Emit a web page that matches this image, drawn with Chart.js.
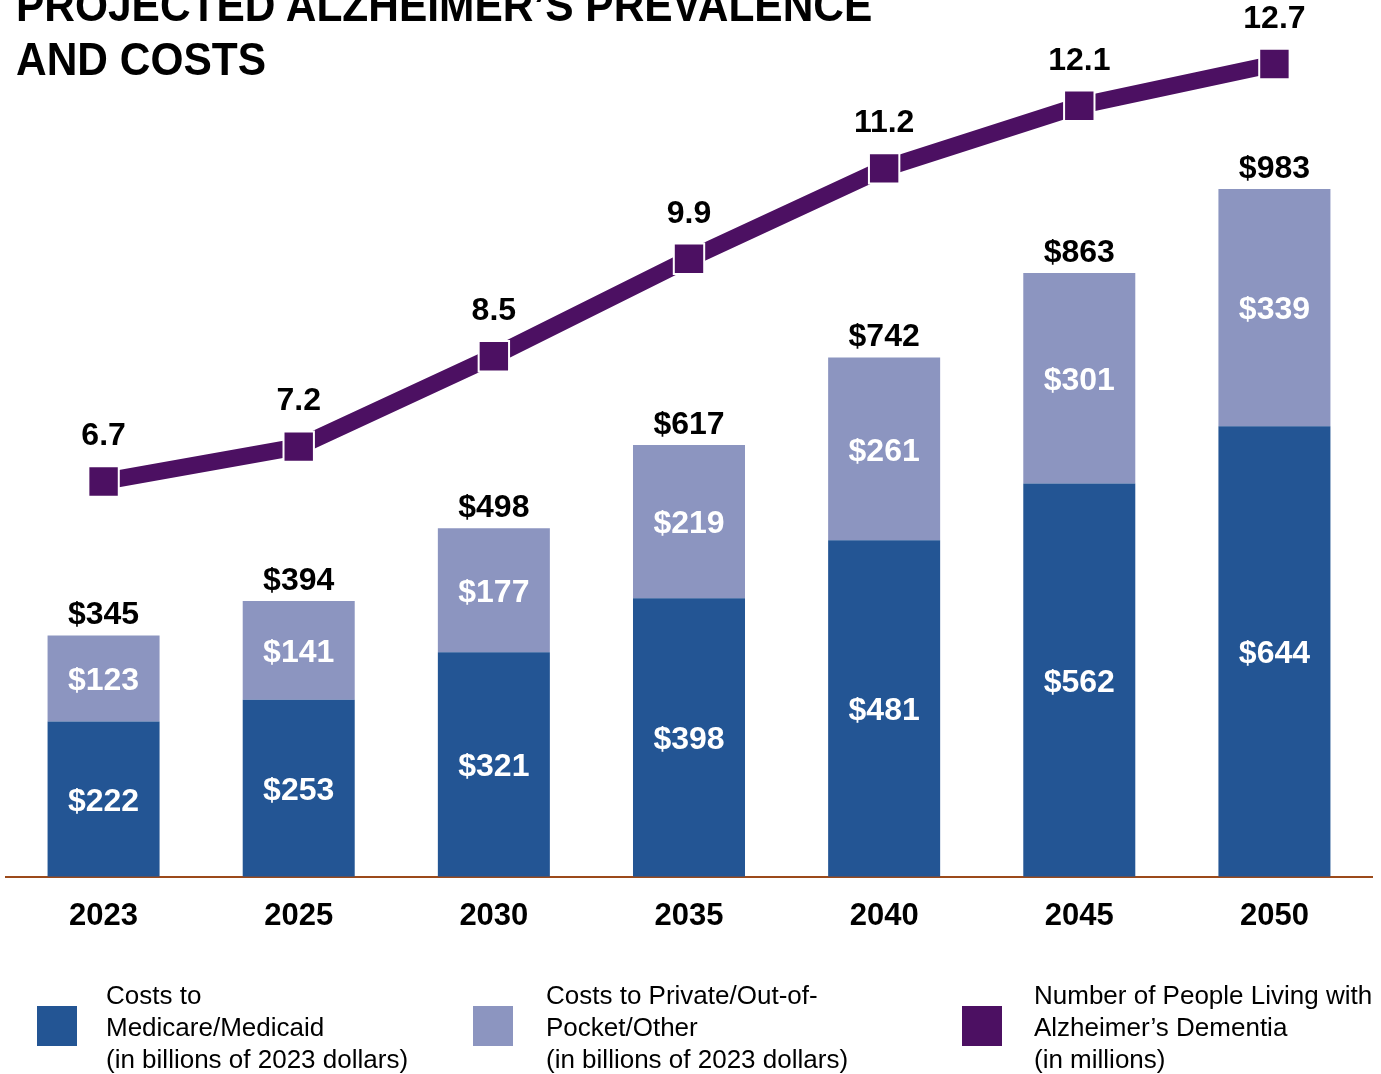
<!DOCTYPE html>
<html>
<head>
<meta charset="utf-8">
<script src="https://cdn.jsdelivr.net/npm/chart.js@4.4.0/dist/chart.umd.min.js"></script>
<style>
  body { margin: 0; background: #fff; font-family: "Liberation Sans", Arial, sans-serif; }
  #wrap { position: relative; width: 1381px; height: 1074px; overflow: hidden; }
  #chartBox { position: absolute; left: 0; top: 0; width: 1381px; height: 1074px; }
  #titulo { position: absolute; left: 16px; top: -22px; font-weight: bold; font-size: 46px; line-height: 54px;
            color: #000; transform: scaleX(0.923); transform-origin: left top; white-space: nowrap; }
  .leyenda-caja { position: absolute; top: 1006px; width: 40px; height: 40px; }
  .leyenda-texto { position: absolute; top: 979px; font-size: 26px; line-height: 32px; color: #000; white-space: nowrap; }
</style>
</head>
<body>
<div id="wrap">
  <div id="chartBox"><canvas id="myChart"></canvas></div>
  <div id="titulo">PROJECTED ALZHEIMER’S PREVALENCE<br>AND COSTS</div>

  <div class="leyenda-caja" style="left:37px;background:#235594"></div>
  <div class="leyenda-texto" style="left:106px">Costs to<br>Medicare/Medicaid<br>(in billions of 2023 dollars)</div>

  <div class="leyenda-caja" style="left:473px;background:#8c95c0"></div>
  <div class="leyenda-texto" style="left:546px">Costs to Private/Out-of-<br>Pocket/Other<br>(in billions of 2023 dollars)</div>

  <div class="leyenda-caja" style="left:962px;background:#4c1062"></div>
  <div class="leyenda-texto" style="left:1034px">Number of People Living with<br>Alzheimer’s Dementia<br>(in millions)</div>
</div>

<script>
// Datos del gráfico
const years = ['2023', '2025', '2030', '2035', '2040', '2045', '2050'];
const medicareCosts = [222, 253, 321, 398, 481, 562, 644];
const privateCosts = [123, 141, 177, 219, 261, 301, 339];
const totalCosts = [345, 394, 498, 617, 742, 863, 983];
const peopleMillions = [6.7, 7.2, 8.5, 9.9, 11.2, 12.1, 12.7];

const azul = '#235594';
const lavanda = '#8c95c0';
const morado = '#4c1062';
const fuenteEtiqueta = 'bold 32px "Liberation Sans", Arial, sans-serif';

// Plugin propio para dibujar las etiquetas de valores
const etiquetasPlugin = {
    id: 'etiquetas',
    afterDatasetsDraw(chart) {
        const c = chart.ctx;
        c.save();
        c.font = fuenteEtiqueta;
        c.textAlign = 'center';
        c.textBaseline = 'middle';

        // etiquetas dentro de las barras
        [1, 2].forEach(i => {
            const meta = chart.getDatasetMeta(i);
            meta.data.forEach((bar, j) => {
                c.fillStyle = '#fff';
                const val = chart.data.datasets[i].data[j];
                c.fillText('$' + val, bar.x, (bar.y + bar.base) / 2 + 3);
            });
        });

        // totales encima de las barras
        const metaTop = chart.getDatasetMeta(2);
        metaTop.data.forEach((bar, j) => {
            c.fillStyle = '#000';
            c.fillText('$' + totalCosts[j], bar.x, bar.y - 20);
        });

        // etiquetas de la línea
        const metaLinea = chart.getDatasetMeta(0);
        metaLinea.data.forEach((pt, j) => {
            c.fillStyle = '#000';
            c.fillText(peopleMillions[j].toFixed(1), pt.x, pt.y - 45);
        });
        c.restore();
    }
};

const ctx = document.getElementById('myChart').getContext('2d');
const myChart = new Chart(ctx, {
    type: 'bar',
    data: {
        labels: years,
        datasets: [
            {
                type: 'line',
                data: peopleMillions,
                yAxisID: 'y2',
                borderColor: morado,
                borderWidth: 17,
                tension: 0,
                pointStyle: 'rect',
                pointRadius: 21.5,
                pointBackgroundColor: morado,
                pointBorderColor: '#fff',
                pointBorderWidth: 2,
                clip: false,
                order: 0
            },
            {
                data: medicareCosts,
                backgroundColor: azul,
                yAxisID: 'y',
                stack: 'costos',
                order: 1
            },
            {
                data: privateCosts,
                backgroundColor: lavanda,
                yAxisID: 'y',
                stack: 'costos',
                order: 1
            }
        ]
    },
    options: {
        responsive: true,
        maintainAspectRatio: false,
        animation: false,
        datasets: {
            bar: { barPercentage: 0.574, categoryPercentage: 1 }
        },
        layout: { autoPadding: false, padding: { left: 6, right: 9, top: 0, bottom: 126 } },
        plugins: {
            legend: { display: false },
            tooltip: { enabled: false }
        },
        scales: {
            x: {
                stacked: true,
                grid: { display: false },
                border: { display: true, color: '#9c4a1a', width: 2 },
                ticks: {
                    color: '#000',
                    padding: 13,
                    font: { family: '"Liberation Sans", Arial, sans-serif', size: 31, weight: 'bold' }
                }
            },
            y: { stacked: true, display: false, min: 0, max: 1253 },
            y2: { display: false, min: 1.017, max: 13.62 }
        }
    },
    plugins: [etiquetasPlugin]
});
</script>
</body>
</html>
